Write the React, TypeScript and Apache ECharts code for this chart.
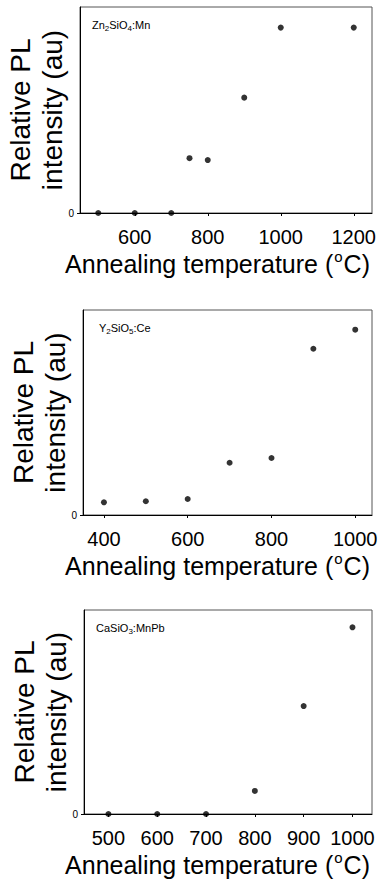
import React, { useEffect, useRef } from "react";
import * as echarts from "echarts";

// Panel 1: Zn2SiO4:Mn
const zn_temps = [500, 600, 700, 750, 800, 900, 1000, 1200];
const zn_intensity = [0, 0, 0, 26.6, 25.7, 56, 90, 90];
const zn_ticks = [600, 800, 1000, 1200];

// Panel 2: Y2SiO5:Ce
const y_temps = [400, 500, 600, 700, 800, 900, 1000];
const y_intensity = [6.2, 6.7, 7.8, 25.5, 27.8, 81.1, 90.4];
const y_ticks = [400, 600, 800, 1000];

// Panel 3: CaSiO3:MnPb
const ca_temps = [500, 600, 700, 800, 900, 1000];
const ca_intensity = [0, 0, 0, 11.3, 52.9, 91.5];
const ca_ticks = [500, 600, 700, 800, 900, 1000];

const yTickLabels = [0];
const yTitle = "Relative PL\nintensity (au)";
const xTitle = "{t|Annealing temperature (}{sup|o}{t|C)}";
const panelLabels = [
  "{m|Zn}{s|2}{m|SiO}{s|4}{m|:Mn}",
  "{m|Y}{s|2}{m|SiO}{s|5}{m|:Ce}",
  "{m|CaSiO}{s|3}{m|:MnPb}",
];

const FONT = "'Liberation Sans', Arial, Helvetica, sans-serif";

export default function App() {
  const ref = useRef<HTMLDivElement>(null);
  useEffect(() => {
    if (!ref.current) return;
    const chart = echarts.init(ref.current, undefined, { renderer: "svg" });

    const grids = [
      { left: 80, top: 7, width: 292, height: 206 },
      { left: 83, top: 310, width: 289, height: 205 },
      { left: 84, top: 610, width: 288, height: 204 },
    ];
    const xRanges = [
      { min: 450, max: 1250, ticks: zn_ticks },
      { min: 350, max: 1040, ticks: y_ticks },
      { min: 450, max: 1040, ticks: ca_ticks },
    ];
    const seriesData = [
      zn_temps.map((t, i) => [t, zn_intensity[i]]),
      y_temps.map((t, i) => [t, y_intensity[i]]),
      ca_temps.map((t, i) => [t, ca_intensity[i]]),
    ];

    const option: any = {
      animation: false,
      backgroundColor: "#ffffff",
      textStyle: { fontFamily: FONT },
      grid: grids.map((g) => ({
        ...g,
        show: true,
        containLabel: false,
        outerBoundsMode: "none",
        borderColor: "#555",
        borderWidth: 1,
        backgroundColor: "transparent",
      })),
      xAxis: xRanges.map((r, i) => ({
        type: "value",
        gridIndex: i,
        min: r.min,
        max: r.max,
        axisLine: { show: true, lineStyle: { color: "#000", width: 1 } },
        axisTick: {
          show: true,
          length: 3,
          inside: false,
          customValues: r.ticks,
          lineStyle: { color: "#000" },
        },
        axisLabel: {
          customValues: r.ticks,
          formatter: (v: number) => String(v),
          fontSize: 20,
          color: "#000",
          margin: 14,
          fontFamily: FONT,
        },
        splitLine: { show: false },
      })),
      yAxis: grids.map((_, i) => ({
        type: "value",
        gridIndex: i,
        min: 0,
        max: 100,
        name: yTitle,
        nameLocation: "middle",
        nameRotate: 90,
        nameGap: 12,
        nameMoveOverlap: false,
        nameTextStyle: {
          fontSize: 28,
          lineHeight: 32,
          color: "#000",
          fontFamily: FONT,
        },
        axisLine: { show: true, lineStyle: { color: "#000", width: 1 } },
        axisTick: {
          show: true,
          length: 3,
          customValues: yTickLabels,
          lineStyle: { color: "#000" },
        },
        axisLabel: {
          customValues: yTickLabels,
          formatter: (v: number) => String(v),
          fontSize: 10,
          color: "#000",
          margin: 6,
          fontFamily: FONT,
        },
        splitLine: { show: false },
      })),
      series: seriesData.map((d, i) => ({
        type: "scatter",
        xAxisIndex: i,
        yAxisIndex: i,
        data: d,
        symbol: "circle",
        symbolSize: 6,
        itemStyle: { color: "#000" },
      })),
      graphic: [
        ...grids.map((g) => ({
          type: "text",
          x: 370,
          y: g.top + g.height + 51,
          style: {
            text: xTitle,
            align: "right",
            verticalAlign: "middle",
            fill: "#000",
            rich: {
              t: { fontSize: 25, fontFamily: FONT, fill: "#000", lineHeight: 30, verticalAlign: "middle" },
              sup: { fontSize: 15, fontFamily: FONT, fill: "#000", lineHeight: 30, verticalAlign: "top", padding: [0, 1, 0, 1] },
            },
          },
        })),
        ...grids.map((g, i) => ({
          type: "text",
          x: g.left + (i === 0 ? 12 : i === 1 ? 16 : 12),
          y: g.top + 18,
          style: {
            text: panelLabels[i],
            align: "left",
            verticalAlign: "middle",
            fill: "#000",
            rich: {
              m: { fontSize: 11, fontFamily: FONT, fill: "#000", lineHeight: 15, verticalAlign: "middle" },
              s: { fontSize: 8, fontFamily: FONT, fill: "#000", lineHeight: 10, verticalAlign: "bottom" },
            },
          },
        })),
      ],
    };
    chart.setOption(option);
    return () => chart.dispose();
  }, []);

  return (
    <div
      ref={ref}
      style={{ position: "absolute", left: 0, top: 0, width: 379, height: 889 }}
    />
  );
}
